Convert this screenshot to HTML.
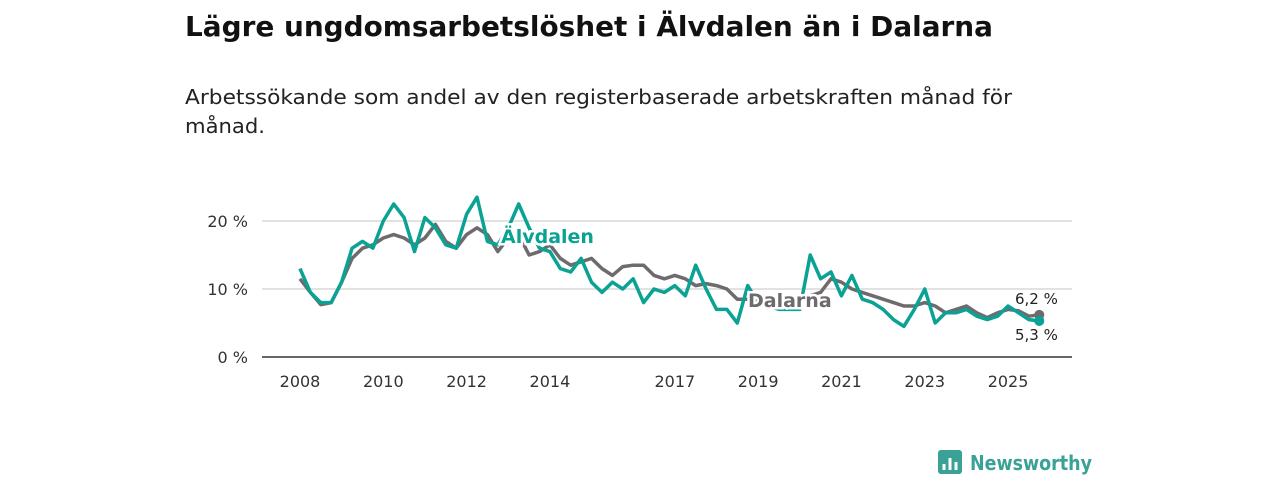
<!DOCTYPE html>
<html><head><meta charset="utf-8"><style>
body{margin:0;width:1280px;height:480px;background:#fff;font-family:"DejaVu Sans","Liberation Sans",sans-serif;overflow:hidden}
</style></head><body>
<svg width="1280" height="480" font-family="DejaVu Sans, Liberation Sans, sans-serif" xmlns="http://www.w3.org/2000/svg">
<text x="185" y="36" font-size="28" font-weight="bold" fill="#111" textLength="808" lengthAdjust="spacingAndGlyphs">Lägre ungdomsarbetslöshet i Älvdalen än i Dalarna</text>
<text x="185" y="104" font-size="20" fill="#222" textLength="827" lengthAdjust="spacingAndGlyphs">Arbetssökande som andel av den registerbaserade arbetskraften månad för</text>
<text x="185" y="133" font-size="20" fill="#222" textLength="80" lengthAdjust="spacingAndGlyphs">månad.</text>
<g id="grid"></g><g id="xt"></g><g id="lines"></g><g id="ann"></g>
<g>
<rect x="938" y="450" width="24" height="24" rx="3" fill="#3aa196"/>
<path d="M944 470v-6M950 470v-12M956 470v-8" stroke="#fff" stroke-width="3"/>
<text x="970" y="470" font-size="20" font-weight="bold" fill="#3aa196" textLength="122" lengthAdjust="spacingAndGlyphs">Newsworthy</text>
</g>
</svg>
<script>
const startYear=2008;
const dalarna=[11.5,9.5,7.7,8,11,14.5,16,16.5,17.5,18,17.5,16.5,17.5,19.5,17,16,18,19,18,15.5,17.5,18,15,15.5,16.5,14.5,13.5,14,14.5,13,12,13.3,13.5,13.5,12,11.5,12,11.5,10.5,10.8,10.5,10,8.5,8.5,9,8.8,8.5,8.5,8.5,9,9.5,11.5,11,10,9.5,9,8.5,8,7.5,7.5,8,7.5,6.5,7,7.5,6.5,5.8,6.5,7,6.8,6,6.2];
const alvdalen=[13,9.5,8,8,11,16,17,16,20,22.5,20.5,15.5,20.5,19,16.5,16,21,23.5,17,16.5,19,22.5,19,16,15.5,13,12.5,14.5,11,9.5,11,10,11.5,8,10,9.5,10.5,9,13.5,10,7,7,5,10.5,8,7.5,7,7,7,15,11.5,12.5,9,12,8.5,8,7,5.5,4.5,7,10,5,6.5,6.5,7,6,5.5,6,7.5,6.5,5.5,5.3];
const yTicks=[0,10,20];
const xTicks=[2008,2010,2012,2014,2017,2019,2021,2023,2025];
const X=t=>300+(t-2008)*41.65, Y=v=>357-v*6.8;
const NS="http://www.w3.org/2000/svg";
function mk(tag,attrs,parent,txt){const e=document.createElementNS(NS,tag);for(const k in attrs)e.setAttribute(k,attrs[k]);if(txt!=null)e.textContent=txt;document.getElementById(parent).appendChild(e);return e;}
yTicks.forEach(v=>{
 const l=mk('line',{x1:262,x2:1072,y1:Y(v),y2:Y(v),stroke:v?'#d9d9d9':'#333','stroke-width':1.5},'grid');
 
 
 const t=mk('text',{x:248,y:Y(v)+6,'text-anchor':'end','font-size':16,fill:'#333'},'grid',v+' %');
 
 
});
xTicks.forEach(y=>{
 const t=mk('text',{x:X(y),y:387,'text-anchor':'middle','font-size':16,fill:'#333'},'xt',y);
 
 
});
function pts(a){return a.map((v,i)=>X(startYear+i*0.25).toFixed(1)+','+Y(v).toFixed(1)).join(' ');}
const d=mk('polyline',{points:pts(dalarna),fill:'none',stroke:'#6e6a6e','stroke-width':3.5,'stroke-linejoin':'round'},'lines');


const a=mk('polyline',{points:pts(alvdalen),fill:'none',stroke:'#0aa294','stroke-width':3.5,'stroke-linejoin':'round'},'lines');


const n=dalarna.length-1, te=startYear+n*0.25;
const c1=mk('circle',{cx:X(te),cy:Y(dalarna[n]),r:5,fill:'#6e6a6e'},'lines');


const c2=mk('circle',{cx:X(te),cy:Y(alvdalen[n]),r:5,fill:'#0aa294'},'lines');


const la=mk('text',{x:501,y:243,'font-size':19,'font-weight':'bold',fill:'#0aa294',stroke:'#fff','stroke-width':5,'paint-order':'stroke'},'ann','Älvdalen');


const ld=mk('text',{x:748,y:307,'font-size':19,'font-weight':'bold',fill:'#6e6a6e',stroke:'#fff','stroke-width':5,'paint-order':'stroke'},'ann','Dalarna');


const v1=mk('text',{x:1015,y:304,'font-size':15,fill:'#222',stroke:'#fff','stroke-width':4,'paint-order':'stroke'},'ann',dalarna[n].toString().replace('.',',')+' %');


const v2=mk('text',{x:1015,y:340,'font-size':15,fill:'#222',stroke:'#fff','stroke-width':4,'paint-order':'stroke'},'ann',alvdalen[n].toString().replace('.',',')+' %');


</script>
</body></html>
